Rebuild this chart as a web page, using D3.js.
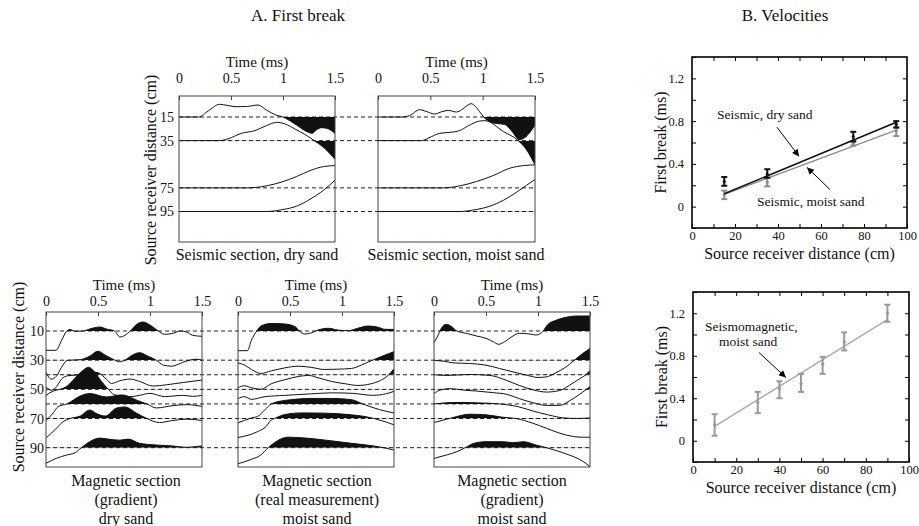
<!DOCTYPE html>
<html>
<head>
<meta charset="utf-8">
<script src="https://cdn.jsdelivr.net/npm/d3@7"></script>
<style>
  body { margin: 0; background: #fff; }
  svg text { font-family: "Liberation Serif", "Times New Roman", serif !important; fill: #111; }
</style>
</head>
<body>
<div id="chart"></div>
<script>
// ---------- data ----------
// traces: [time (ms), amplitude (display units, + = up)]
const seismicDist = [15, 35, 75, 95];
const seismicDry = [
  [[0,0],[0.19,0],[0.28,6],[0.39,12.7],[0.47,11.5],[0.55,10.3],[0.65,10.5],[0.76,12],[0.84,7],[0.94,1.7],[1.0,0],[1.07,-4],[1.13,-8],[1.23,-14.7],[1.28,-16.3],[1.32,-13],[1.37,-10.7],[1.42,-11.3],[1.5,-16.3]],
  [[0,0],[0.39,0],[0.47,1.7],[0.6,7.3],[0.73,10],[0.84,15],[0.94,18.3],[1.02,16.7],[1.12,11.3],[1.21,6.3],[1.29,0.7],[1.4,-7.7],[1.5,-18.7]],
  [[0,0],[0.65,0],[0.84,2],[1.0,6.3],[1.13,11.3],[1.26,17.3],[1.39,21.3],[1.5,22.3]],
  [[0,0],[0.84,0],[1.0,2],[1.13,5.3],[1.26,12.3],[1.39,21.3],[1.5,31.3]]
];
const seismicMoist = [
  [[0,0],[0.24,0],[0.3,1.3],[0.4,7.3],[0.46,5.6],[0.54,3],[0.61,5.3],[0.67,6.6],[0.75,5],[0.8,7.3],[0.85,11.3],[0.89,13.3],[0.93,10.6],[0.98,4],[1.01,0],[1.085,-5.4],[1.15,-6.7],[1.21,-7.4],[1.28,-14.4],[1.35,-22.7],[1.41,-20],[1.47,-12.7],[1.5,-8]],
  [[0,0],[0.415,0],[0.51,4],[0.59,7.3],[0.69,8.3],[0.78,10],[0.86,14.7],[0.96,19.3],[1.02,20],[1.2,9],[1.34,0],[1.42,-9.3],[1.5,-24.3]],
  [[0,0],[0.62,0],[0.78,2],[0.94,6.3],[1.1,12.3],[1.26,19.7],[1.39,22.3],[1.5,23]],
  [[0,0],[0.78,0],[0.94,2],[1.07,5.3],[1.2,11.3],[1.33,19.7],[1.42,26.3],[1.5,32]]
];

const magDist = [10, 30, 40, 50, 60, 70, 90];
const magLabels = [10, 30, 50, 70, 90];
const magGradDry = [
  [[0,-19.3],[0.096,-19.3],[0.15,-9.3],[0.2,0],[0.23,1.4],[0.28,-0.3],[0.36,0],[0.42,2],[0.52,4],[0.58,2],[0.66,0],[0.71,-6],[0.76,-4.3],[0.81,0],[0.87,6.5],[0.93,9],[1.0,6],[1.08,0],[1.14,-3.3],[1.21,-2.6],[1.29,0],[1.35,-1],[1.41,-4.3],[1.5,-5.3]],
  [[0,-12],[0.05,-19],[0.1,-16],[0.15,-7],[0.2,-0.5],[0.23,0],[0.33,0.5],[0.42,4],[0.5,9],[0.57,5],[0.63,1.7],[0.71,-1.7],[0.76,0],[0.82,4.5],[0.9,7.5],[0.98,4],[1.06,0],[1.13,-5],[1.21,-6],[1.29,-3.3],[1.38,0],[1.45,1],[1.5,0]],
  [[0,-12],[0.05,-15.5],[0.1,-12],[0.15,-4.3],[0.21,-1],[0.29,-0.3],[0.36,0.7],[0.42,3],[0.5,2],[0.58,-4.3],[0.63,-8.7],[0.71,-6],[0.81,-4.3],[0.9,-6.7],[1.03,-11.3],[1.16,-10],[1.32,-7.7],[1.5,-5.3]],
  [[0,-6],[0.07,-1.7],[0.134,0],[0.2,3],[0.26,9],[0.34,17.5],[0.41,22],[0.47,17],[0.53,8.3],[0.6,0],[0.65,-5],[0.73,-6.7],[0.81,-7.3],[0.9,-6],[1.0,-4],[1.08,-6],[1.14,-7.3],[1.22,-6.7],[1.32,-6],[1.41,-7],[1.5,-6]],
  [[0,-16.5],[0.07,-9],[0.115,-2.7],[0.2,0],[0.33,8],[0.42,10.5],[0.58,7],[0.73,9],[0.9,2.6],[0.97,0],[1.06,-4],[1.22,-1.7],[1.35,-0.7],[1.5,-2.4]],
  [[0,-19.6],[0.086,-11.3],[0.166,-3],[0.23,0],[0.33,2.5],[0.42,8.5],[0.49,4.7],[0.57,2.5],[0.68,10.5],[0.76,11.5],[0.87,5.4],[0.97,0],[1.09,-4],[1.22,-2],[1.35,-0.6],[1.5,-2]],
  [[0,-15.6],[0.1,-10.6],[0.2,-7.3],[0.28,-5],[0.34,0],[0.42,6],[0.52,9.6],[0.61,8.4],[0.71,7.5],[0.79,8.6],[0.9,4.4],[1.06,2.7],[1.22,1.7],[1.35,0.4],[1.43,1],[1.5,1.7]]
];
const magRealMoist = [
  [[0,-19.7],[0.09,-19.7],[0.13,-9],[0.18,0],[0.22,5],[0.32,7.5],[0.45,7],[0.55,4.3],[0.59,0],[0.64,-3],[0.71,-1.7],[0.77,1],[0.87,2.7],[0.96,1],[1.06,0.3],[1.15,2.7],[1.25,5],[1.35,3.7],[1.41,1.7],[1.5,1.5]],
  [[0,-2.7],[0.064,-5],[0.13,-9.3],[0.22,-13.3],[0.32,-10.7],[0.45,-7.7],[0.58,-6],[0.71,-7.3],[0.83,-9.3],[0.96,-9],[1.09,-8.3],[1.22,-3.3],[1.31,0.7],[1.41,5],[1.5,8.5]],
  [[0,-13],[0.06,-11],[0.13,-13],[0.22,-14.5],[0.32,-9],[0.45,-5],[0.58,-1.7],[0.68,-0.7],[0.77,-3],[0.9,-6.7],[1.03,-9],[1.15,-10.7],[1.28,-9],[1.37,-5.7],[1.44,-1],[1.5,6]],
  [[0,-9.3],[0.06,-7.3],[0.13,-10],[0.25,-7.5],[0.45,-6],[0.7,-4.5],[0.9,-3.5],[1.1,-4],[1.3,-6],[1.42,-4.5],[1.5,-2]],
  [[0,-19],[0.13,-14],[0.19,-12.4],[0.26,-5.7],[0.32,0],[0.45,3.5],[0.71,5.5],[0.9,5.5],[1.09,4.3],[1.2,0],[1.36,-5.7],[1.5,-9]],
  [[0,-19],[0.19,-13],[0.27,-8],[0.32,-1.3],[0.35,0],[0.45,4],[0.61,5.6],[0.83,5.4],[1.09,3.7],[1.22,2],[1.31,0],[1.5,-6.3]],
  [[0,-16],[0.13,-11.6],[0.22,-7.3],[0.29,0],[0.35,5],[0.48,10.5],[0.61,10],[0.83,7.7],[1.09,4.4],[1.35,1],[1.5,-2.3]]
];
const magGradMoist = [
  [[0,-11.7],[0.04,-4],[0.07,2.7],[0.12,6.7],[0.17,4.3],[0.22,0],[0.31,-2.3],[0.41,-5],[0.5,-7.3],[0.57,-10.7],[0.62,-13.3],[0.68,-10.7],[0.74,-6.3],[0.82,-2.3],[0.92,-3],[0.98,-4],[1.05,0],[1.09,6],[1.18,11],[1.27,13.7],[1.37,15],[1.5,15]],
  [[0,0],[0.09,-1],[0.19,-2.7],[0.34,-3.3],[0.5,-5],[0.63,-8.3],[0.76,-11.7],[0.89,-15],[1.0,-17.3],[1.08,-16.7],[1.17,-12.7],[1.27,-6.7],[1.35,0],[1.43,6.7],[1.5,11.7]],
  [[0,0],[0.12,-0.7],[0.34,0.3],[0.54,-0.7],[0.7,-5.7],[0.82,-10.7],[0.95,-15],[1.08,-17.3],[1.21,-15.7],[1.3,-10.7],[1.4,-4],[1.46,0],[1.5,4.3]],
  [[0,-4.3],[0.06,-0.7],[0.15,0.7],[0.28,-0.7],[0.41,-1.7],[0.57,-3.3],[0.7,-5],[0.82,-9.3],[0.95,-13.3],[1.08,-16],[1.21,-16],[1.3,-11.7],[1.4,-5],[1.5,2.7]],
  [[0,0],[0.1,1],[0.25,1.5],[0.45,1],[0.63,0],[0.8,-2.5],[0.95,-7],[1.1,-11],[1.25,-14],[1.38,-14.5],[1.5,-14]],
  [[0,-4],[0.12,-0.7],[0.22,2],[0.34,4.3],[0.5,3.7],[0.66,1.3],[0.79,0],[0.95,-4.7],[1.08,-9.7],[1.21,-14.7],[1.34,-18],[1.43,-18.7],[1.5,-18.7]],
  [[0,-10.7],[0.12,-7.3],[0.22,-4],[0.3,0],[0.38,4.3],[0.5,6],[0.66,6],[0.76,5],[0.86,6],[0.98,2.7],[1.08,0],[1.21,-4],[1.3,-7.3],[1.4,-11.7],[1.46,-15.7],[1.5,-19]]
];
const timeTicks = [0, 0.5, 1, 1.5];

// velocities (first break, ms)
const seisX = [15, 35, 75, 95];
const dryY = [0.235, 0.305, 0.655, 0.77];
const dryLo = [0.195, 0.27, 0.61, 0.74];
const dryHi = [0.277, 0.35, 0.70, 0.80];
const moistY = [0.11, 0.227, 0.59, 0.71];
const moistLo = [0.07, 0.19, 0.57, 0.66];
const moistHi = [0.15, 0.27, 0.61, 0.74];
const dryFit = [[15, 0.12], [95, 0.79]];
const moistFit = [[15, 0.115], [95, 0.715]];

const smX = [10, 30, 40, 50, 60, 70, 90];
const smY = [0.15, 0.36, 0.49, 0.54, 0.72, 0.93, 1.2];
const smLo = [0.047, 0.26, 0.40, 0.46, 0.63, 0.85, 1.12];
const smHi = [0.25, 0.46, 0.56, 0.63, 0.79, 1.02, 1.28];
const smFit = [[10, 0.135], [90, 1.14]];

// ---------- drawing ----------
const FONT = '"Liberation Serif", "Times New Roman", serif';
const svg = d3.select('#chart').append('svg').attr('width', 919).attr('height', 526)
  .style('font-family', FONT);
svg.append('rect').attr('width', 919).attr('height', 526).attr('fill', '#fff');
const defs = svg.append('defs');
defs.append('marker').attr('id', 'arrow').attr('viewBox', '0 0 10 10')
  .attr('refX', 10).attr('refY', 5).attr('markerWidth', 9).attr('markerHeight', 7)
  .attr('markerUnits', 'userSpaceOnUse').attr('orient', 'auto')
  .append('path').attr('d', 'M0,0L10,5L0,10z').attr('fill', '#000');

const amp = d3.scaleLinear().domain([0, 1]).range([0, 1]);
let clipN = 0;

function txt(sel, size) {
  return sel.attr('font-family', FONT).style('font-family', FONT).style('font-size', size + 'px');
}

function section(o) {
  const x = d3.scaleLinear().domain([0, 1.5]).range([o.left, o.right]);
  const g = svg.append('g');
  const id = 'c' + clipN++;
  defs.append('clipPath').attr('id', id).append('rect')
    .attr('x', o.left).attr('y', o.top).attr('width', o.right - o.left).attr('height', o.bottom - o.top);
  const inner = g.append('g').attr('clip-path', `url(#${id})`);

  o.traces.forEach((tr, i) => {
    const base = o.y(o.dists[i]);
    const yOf = (p) => base - amp(p[1]);
    const hid = 'c' + clipN++;
    defs.append('clipPath').attr('id', hid).append('rect')
      .attr('x', o.left).attr('width', o.right - o.left)
      .attr('y', o.fillUp ? o.top : base)
      .attr('height', o.fillUp ? base - o.top : o.bottom - base);
    inner.append('path')
      .attr('clip-path', `url(#${hid})`)
      .attr('d', d3.area().x((p) => x(p[0])).y0(base).y1(yOf).curve(d3.curveMonotoneX)(tr))
      .attr('fill', '#111');
    inner.append('path')
      .attr('d', d3.line().x((p) => x(p[0])).y(yOf).curve(d3.curveMonotoneX)(tr))
      .attr('fill', 'none').attr('stroke', '#111').attr('stroke-width', 1);
  });

  g.append('rect').attr('x', o.left).attr('y', o.top)
    .attr('width', o.right - o.left).attr('height', o.bottom - o.top)
    .attr('fill', 'none').attr('stroke', '#444').attr('stroke-width', 1);

  const ax = g.append('g').attr('transform', `translate(0,${o.top})`)
    .call(d3.axisTop(x).tickValues(timeTicks).tickSize(-4).tickPadding(o.tickPad).tickFormat(d3.format('')));
  ax.select('.domain').remove();
  ax.selectAll('line').attr('stroke', '#444');
  txt(ax.selectAll('text'), 14);

  txt(g.append('text').attr('x', (o.left + o.right) / 2).attr('y', o.titleY)
    .attr('text-anchor', 'middle'), 15).text('Time (ms)');

  if (o.yLabels) {
    const ay = g.append('g').attr('transform', `translate(${o.left},0)`)
      .call(d3.axisLeft(o.y).tickValues(o.yLabels).tickSize(0).tickPadding(o.yPad));
    ay.select('.domain').remove();
    txt(ay.selectAll('text'), 14);
  }
  return x;
}

function dashes(y, dists, x0, x1) {
  svg.append('g').selectAll('line').data(dists).join('line')
    .attr('x1', x0).attr('x2', x1).attr('y1', (d) => y(d)).attr('y2', (d) => y(d))
    .attr('stroke', '#222').attr('stroke-width', 1).attr('stroke-dasharray', '4,3');
}

function caption(lines, cx, y0) {
  lines.forEach((t, i) => {
    txt(svg.append('text').attr('x', cx).attr('y', y0 + i * 19).attr('text-anchor', 'middle'), 16).text(t);
  });
}

function vlabel(t, cx, cy, size) {
  txt(svg.append('text').attr('transform', `translate(${cx},${cy}) rotate(-90)`).attr('dy', '0.35em')
    .attr('text-anchor', 'middle'), size).text(t);
}

// titles
txt(svg.append('text').attr('x', 298).attr('y', 21).attr('text-anchor', 'middle'), 17).text('A. First break');
txt(svg.append('text').attr('x', 785).attr('y', 21).attr('text-anchor', 'middle'), 17).text('B. Velocities');

// seismic sections
const ySeis = d3.scaleLinear().domain([15, 95]).range([117, 211.5]);
dashes(ySeis, seismicDist, 179, 535);
section({ left: 179, right: 335, top: 96, bottom: 242, y: ySeis, dists: seismicDist, traces: seismicDry,
  fillUp: false, tickPad: 13, titleY: 67, yLabels: seismicDist, yPad: 5 });
section({ left: 378, right: 535, top: 96, bottom: 242, y: ySeis, dists: seismicDist, traces: seismicMoist,
  fillUp: false, tickPad: 13, titleY: 67 });
vlabel('Source receiver distance (cm)', 150, 170, 16);
caption(['Seismic section, dry sand'], 257, 260);
caption(['Seismic section, moist sand'], 456, 260);

// magnetic sections
const yMag = d3.scaleLinear().domain([10, 90]).range([331, 447.7]);
dashes(yMag, magDist, 46, 590);
section({ left: 46, right: 202, top: 312, bottom: 467, y: yMag, dists: magDist, traces: magGradDry,
  fillUp: true, tickPad: 6, titleY: 290, yLabels: magLabels, yPad: 2 });
section({ left: 238, right: 394, top: 312, bottom: 467, y: yMag, dists: magDist, traces: magRealMoist,
  fillUp: true, tickPad: 6, titleY: 290 });
section({ left: 434, right: 590, top: 312, bottom: 467, y: yMag, dists: magDist, traces: magGradMoist,
  fillUp: true, tickPad: 6, titleY: 290 });
vlabel('Source receiver distance (cm)', 18, 377, 16);
caption(['Magnetic section', '(gradient)', 'dry sand'], 126, 486);
caption(['Magnetic section', '(real measurement)', 'moist sand'], 317, 486);
caption(['Magnetic section', '(gradient)', 'moist sand'], 512, 486);

// velocity charts
function velChart(o) {
  const x = d3.scaleLinear().domain([0, 100]).range([o.left, o.right]);
  const y = d3.scaleLinear().domain([-0.2, 1.4]).range([o.bottom, o.top]);
  const g = svg.append('g');
  const xt = d3.range(0, 11).map((i) => i * 10);
  const yt = d3.range(-1, 8).map((i) => +(i * 0.2).toFixed(1));
  const style = (sel) => {
    sel.select('.domain').remove();
    sel.selectAll('line').attr('stroke', '#000');
    txt(sel.selectAll('text'), 12.5);
  };
  g.append('g').attr('transform', `translate(0,${o.bottom})`)
    .call(d3.axisBottom(x).tickValues(xt).tickSize(-4).tickPadding(3).tickFormat((d) => (d % 20 === 0 ? d : ''))).call(style);
  g.append('g').attr('transform', `translate(0,${o.top})`)
    .call(d3.axisTop(x).tickValues(xt.slice(1, -1)).tickSize(-4).tickFormat('')).call(style);
  g.append('g').attr('transform', `translate(${o.left},0)`)
    .call(d3.axisLeft(y).tickValues(yt).tickSize(-4).tickPadding(8)
      .tickFormat((d) => (Math.round(d * 10) % 4 === 0 && d >= 0 ? d3.format('')(d) : ''))).call(style);
  g.append('g').attr('transform', `translate(${o.right},0)`)
    .call(d3.axisRight(y).tickValues(yt.slice(1, -1)).tickSize(-4).tickFormat('')).call(style);
  g.append('rect').attr('x', o.left).attr('y', o.top).attr('width', o.right - o.left).attr('height', o.bottom - o.top)
    .attr('fill', 'none').attr('stroke', '#000').attr('stroke-width', 1.6);
  txt(g.append('text').attr('x', (o.left + o.right) / 2).attr('y', o.bottom + 31).attr('text-anchor', 'middle'), 16)
    .text('Source receiver distance (cm)');
  txt(g.append('text').attr('transform', `translate(${o.left - 32},${(o.top + o.bottom) / 2}) rotate(-90)`).attr('dy', '0.35em')
    .attr('text-anchor', 'middle'), 16).text('First break (ms)');
  return { x, y, g };
}

function errSeries(c, xs, ys, lo, hi, color, fit, fitColor, fitW) {
  c.g.append('path').attr('d', d3.line().x((d) => c.x(d[0])).y((d) => c.y(d[1]))(fit))
    .attr('stroke', fitColor).attr('stroke-width', fitW).attr('fill', 'none');
  const bars = c.g.append('g').selectAll('g').data(xs.map((v, i) => ({ x: v, y: ys[i], lo: lo[i], hi: hi[i] }))).join('g')
    .attr('stroke', color).attr('stroke-width', 2);
  bars.append('line').attr('x1', (d) => c.x(d.x)).attr('x2', (d) => c.x(d.x)).attr('y1', (d) => c.y(d.lo)).attr('y2', (d) => c.y(d.hi));
  bars.append('line').attr('x1', (d) => c.x(d.x) - 3).attr('x2', (d) => c.x(d.x) + 3).attr('y1', (d) => c.y(d.lo)).attr('y2', (d) => c.y(d.lo));
  bars.append('line').attr('x1', (d) => c.x(d.x) - 3).attr('x2', (d) => c.x(d.x) + 3).attr('y1', (d) => c.y(d.hi)).attr('y2', (d) => c.y(d.hi));
  bars.append('circle').attr('cx', (d) => c.x(d.x)).attr('cy', (d) => c.y(d.y)).attr('r', 1.6).attr('fill', color).attr('stroke', 'none');
}

function arrow(c, from, to) {
  c.g.append('line').attr('x1', c.x(from[0])).attr('y1', c.y(from[1])).attr('x2', c.x(to[0])).attr('y2', c.y(to[1]))
    .attr('stroke', '#000').attr('stroke-width', 1).attr('marker-end', 'url(#arrow)');
}
function note(c, t, at, anchor) {
  txt(c.g.append('text').attr('x', c.x(at[0])).attr('y', c.y(at[1])).attr('dy', '0.35em')
    .attr('text-anchor', anchor), 13.5).text(t);
}

const v1 = velChart({ left: 692, right: 907, top: 57, bottom: 228 });
errSeries(v1, seisX, moistY, moistLo, moistHi, '#8c8c8c', moistFit, '#8c8c8c', 1.3);
errSeries(v1, seisX, dryY, dryLo, dryHi, '#111', dryFit, '#111', 1.6);
note(v1, 'Seismic, dry sand', [11.6, 0.865], 'start');
arrow(v1, [39.5, 0.743], [49.8, 0.47]);
note(v1, 'Seismic, moist sand', [30.2, 0.047], 'start');
arrow(v1, [64.2, 0.16], [53.5, 0.367]);

const v2 = velChart({ left: 693, right: 909, top: 292, bottom: 462 });
errSeries(v2, smX, smY, smLo, smHi, '#999', smFit, '#aaa', 1.3);
note(v2, 'Seismomagnetic,', [27, 1.077], 'middle');
note(v2, 'moist sand', [25.5, 0.936], 'middle');
arrow(v2, [30.6, 0.83], [43, 0.595]);
</script>
</body>
</html>
